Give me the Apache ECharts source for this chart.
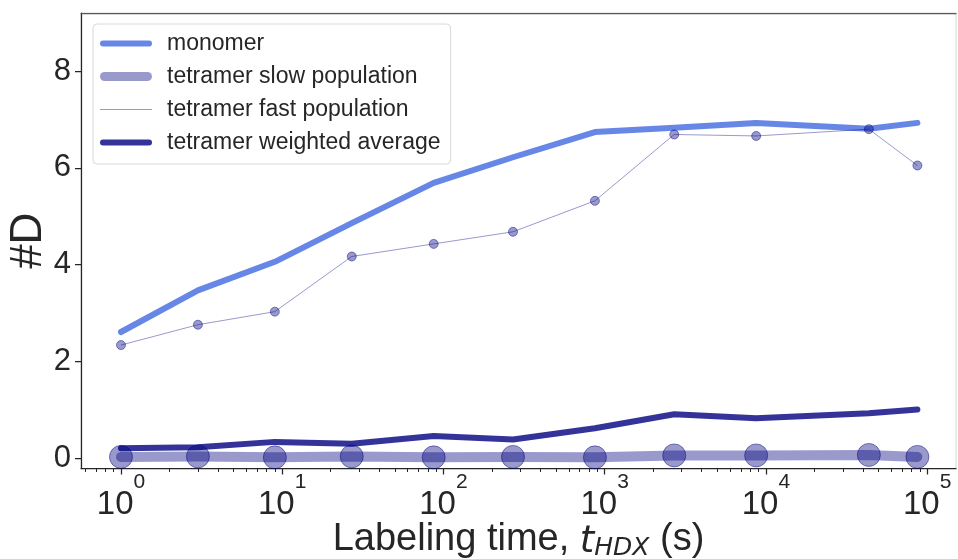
<!DOCTYPE html>
<html>
<head>
<meta charset="utf-8">
<script src="https://cdn.jsdelivr.net/npm/echarts@6/dist/echarts.min.js"></script>
<style>
html,body{margin:0;padding:0;background:#fff;}
#chart{width:958px;height:559px;}
</style>
</head>
<body>
<div id="chart"></div>
<script>
// ---- data ----
var times = [1, 3, 9, 27, 87, 270, 870, 2700, 8700, 43500, 87000];
var monomer = [2.61, 3.47, 4.06, 4.86, 5.69, 6.22, 6.74, 6.83, 6.93, 6.81, 6.93];
var tetramerSlow = [0.03, 0.04, 0.02, 0.04, 0.02, 0.03, 0.02, 0.06, 0.06, 0.07, 0.03];
var tetramerFast = [2.34, 2.76, 3.03, 4.17, 4.43, 4.68, 5.32, 6.69, 6.66, 6.80, 6.05];
var tetramerAvg = [0.21, 0.23, 0.34, 0.30, 0.46, 0.39, 0.62, 0.91, 0.83, 0.93, 1.01];
var seriesNames = ['monomer', 'tetramer slow population', 'tetramer fast population', 'tetramer weighted average'];
var xMajorTicks = [1, 10, 100, 1000, 10000, 100000];
var xMinorTicks = [0.6, 0.7, 0.8, 0.9,
  2, 3, 4, 5, 6, 7, 8, 9,
  20, 30, 40, 50, 60, 70, 80, 90,
  200, 300, 400, 500, 600, 700, 800, 900,
  2000, 3000, 4000, 5000, 6000, 7000, 8000, 9000,
  20000, 30000, 40000, 50000, 60000, 70000, 80000, 90000];
var yTicks = [0, 2, 4, 6, 8];

function pairs(ys) { return times.map(function (t, i) { return [t, ys[i]]; }); }

var FONT = "'Liberation Sans', Arial, Helvetica, sans-serif";
var MATHFONT = "'DejaVu Sans', sans-serif";
var XMIN = 0.565, XMAX = 151000;
var TXT = '#262626';

var chart = echarts.init(document.getElementById('chart'), null, {renderer: 'canvas'});

var option = {
  backgroundColor: '#ffffff',
  animation: false,
  textStyle: {fontFamily: FONT},
  grid: {left: 81, top: 13, right: 2, bottom: 90.5, containLabel: false, outerBoundsMode: 'none',
    show: true, borderColor: '#d6d6d6', borderWidth: 1, backgroundColor: 'transparent'},
  legend: {
    orient: 'vertical',
    left: 93, top: 24,
    padding: [8, 10, 10, 7],
    itemGap: 10,
    itemWidth: 52, itemHeight: 14,
    backgroundColor: 'rgba(255,255,255,0.8)',
    borderColor: '#d9d9d9', borderWidth: 1, borderRadius: 4,
    textStyle: {fontFamily: FONT, fontSize: 23, color: TXT, lineHeight: 23, padding: [0, 0, 0, 10]},
    data: [
      {name: seriesNames[0], icon: 'path://M3,0h46a3,3 0 0 1 0,6h-46a3,3 0 0 1 0,-6z', itemStyle: {color: 'rgba(65,105,225,0.8)', borderWidth: 0}},
      {name: seriesNames[1], icon: 'path://M4.5,0h43a4.5,4.5 0 0 1 0,9h-43a4.5,4.5 0 0 1 0,-9z', itemStyle: {color: 'rgba(0,0,128,0.4)', borderWidth: 0}},
      {name: seriesNames[2], icon: 'path://M0,0h52v1h-52z', itemStyle: {color: 'rgba(0,0,128,0.4)', borderWidth: 0}},
      {name: seriesNames[3], icon: 'path://M3,0h46a3,3 0 0 1 0,6h-46a3,3 0 0 1 0,-6z', itemStyle: {color: 'rgba(0,0,128,0.8)', borderWidth: 0}}
    ]
  },
  xAxis: [
    {
      type: 'log', logBase: 10, min: XMIN, max: XMAX, position: 'bottom',
      name: 'Labeling time, {i|t}{sub|HDX} (s)',
      nameLocation: 'middle', nameGap: 50, nameMoveOverlap: false,
      nameTextStyle: {
        fontFamily: FONT, fontSize: 38, color: TXT,
        rich: {
          i: {fontFamily: MATHFONT, fontSize: 37, fontStyle: 'italic', color: TXT, lineHeight: 42, verticalAlign: 'bottom'},
          sub: {fontFamily: MATHFONT, fontSize: 25, fontStyle: 'italic', color: TXT, lineHeight: 25, verticalAlign: 'bottom'}
        },
        lineHeight: 42, verticalAlign: 'top'
      },
      axisLine: {show: true, onZero: false, lineStyle: {color: TXT, width: 1.25}},
      axisTick: {show: true, customValues: xMajorTicks, length: 6, inside: false, lineStyle: {color: TXT, width: 1.25}},
      axisLabel: {
        show: true, customValues: xMajorTicks, margin: 20,
        formatter: function (v) {
          var lg = Math.log10(v), e = Math.round(lg);
          if (Math.abs(lg - e) > 1e-6) return '';
          return '{b|10}{s|' + e + '}';
        },
        rich: {
          b: {fontFamily: FONT, fontSize: 33, color: TXT, lineHeight: 33, verticalAlign: 'bottom'},
          s: {fontFamily: FONT, fontSize: 21, color: TXT, lineHeight: 21, verticalAlign: 'bottom', padding: [0, 0, 29, 0]}
        }
      },
      splitLine: {show: false}
    },
    {
      type: 'log', logBase: 10, min: XMIN, max: XMAX, position: 'bottom',
      axisLine: {show: false, onZero: false},
      axisTick: {show: true, customValues: xMinorTicks, length: 3.5, inside: false, lineStyle: {color: TXT, width: 1}},
      axisLabel: {show: false},
      splitLine: {show: false}
    },
    {
      type: 'log', logBase: 10, min: XMIN, max: XMAX, position: 'top',
      axisLine: {show: true, onZero: false, lineStyle: {color: '#595959', width: 1.25}},
      axisTick: {show: false}, axisLabel: {show: false}, splitLine: {show: false}
    }
  ],
  yAxis: {
    type: 'value', min: -0.21, max: 9.2,
    name: '#D', nameLocation: 'middle', nameGap: 30, nameRotate: 90, nameMoveOverlap: false,
    nameTextStyle: {fontFamily: FONT, fontSize: 44, color: TXT, lineHeight: 44},
    axisLine: {show: true, onZero: false, lineStyle: {color: TXT, width: 1.25}},
    axisTick: {show: true, customValues: yTicks, length: 6, lineStyle: {color: TXT, width: 1.25}},
    axisLabel: {show: true, customValues: yTicks, margin: 10, fontFamily: FONT, fontSize: 31, color: TXT},
    splitLine: {show: false}
  },
  series: [
    {
      name: seriesNames[0], type: 'line', xAxisIndex: 0, data: pairs(monomer),
      symbol: 'none', showSymbol: false,
      lineStyle: {color: 'rgba(65,105,225,0.8)', width: 6, cap: 'round', join: 'round'},
      itemStyle: {color: 'rgba(65,105,225,0.8)'}
    },
    {
      name: seriesNames[1], type: 'line', xAxisIndex: 0, data: pairs(tetramerSlow),
      symbol: 'circle', symbolSize: 23, showSymbol: true,
      lineStyle: {color: 'rgba(0,0,128,0.4)', width: 10, cap: 'round', join: 'round'},
      itemStyle: {color: 'rgba(0,0,128,0.4)', borderColor: 'rgba(0,0,128,0.45)', borderWidth: 1}
    },
    {
      name: seriesNames[2], type: 'line', xAxisIndex: 0, data: pairs(tetramerFast),
      symbol: 'circle', symbolSize: 9, showSymbol: true,
      lineStyle: {color: 'rgba(0,0,128,0.4)', width: 1},
      itemStyle: {color: 'rgba(0,0,128,0.4)', borderColor: 'rgba(0,0,128,0.45)', borderWidth: 1}
    },
    {
      name: seriesNames[3], type: 'line', xAxisIndex: 0, data: pairs(tetramerAvg),
      symbol: 'none', showSymbol: false,
      lineStyle: {color: 'rgba(0,0,128,0.8)', width: 6, cap: 'round', join: 'round'},
      itemStyle: {color: 'rgba(0,0,128,0.8)'}
    }
  ]
};
chart.setOption(option);
</script>
</body>
</html>
